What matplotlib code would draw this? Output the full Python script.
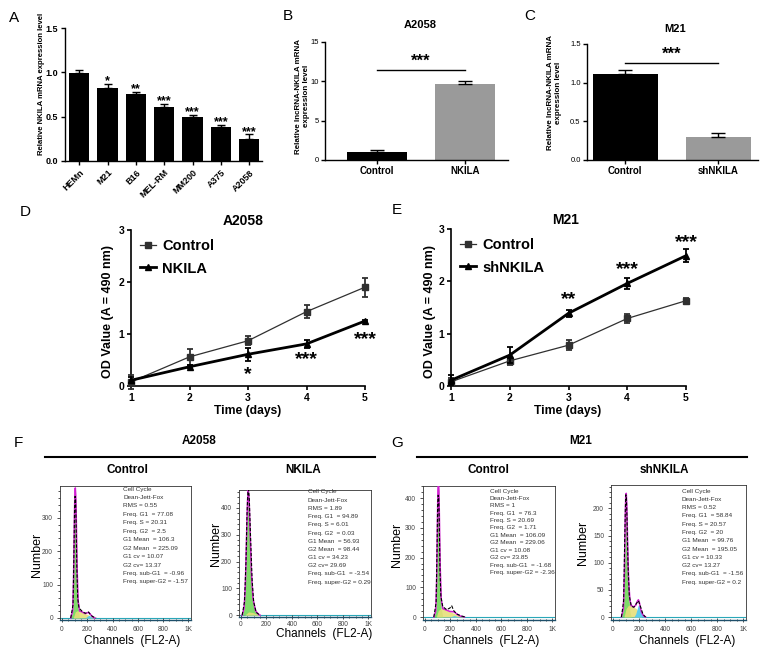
import numpy as np
import matplotlib
matplotlib.use('Agg')
import matplotlib.pyplot as plt
from matplotlib.ticker import MultipleLocator
from matplotlib.lines import Line2D

plt.rcParams['font.family'] = ['Liberation Sans', 'DejaVu Sans']

# ---------------- data ----------------
# Panel A
a_lines = ['HEMn', 'M21', 'B16', 'MEL-RM', 'MM200', 'A375', 'A2058']
a_vals = [0.99, 0.82, 0.755, 0.605, 0.50, 0.387, 0.245]
a_errs = [0.04, 0.05, 0.025, 0.035, 0.02, 0.02, 0.055]
a_sig = ['', '*', '**', '***', '***', '***', '***']

# Panel B
b_groups = ['Control', 'NKILA']
b_vals = [1.06, 9.6]
b_errs = [0.2, 0.45]

# Panel C
c_groups = ['Control', 'shNKILA']
c_vals = [1.11, 0.30]
c_errs = [0.05, 0.045]

# Panel D / E
days = [1, 2, 3, 4, 5]
d_ctrl = [0.08, 0.56, 0.87, 1.43, 1.90]
d_ctrl_err = [0.14, 0.15, 0.09, 0.12, 0.18]
d_nkila = [0.11, 0.37, 0.61, 0.81, 1.25]
d_nkila_err = [0.06, 0.03, 0.13, 0.07, 0.02]
d_sig = ['', '', '*', '***', '***']
d_sig_y = [0, 0, 0.22, 0.50, 0.90]

e_ctrl = [0.08, 0.48, 0.78, 1.29, 1.63]
e_ctrl_err = [0.07, 0.08, 0.10, 0.08, 0.06]
e_sh = [0.11, 0.59, 1.39, 1.96, 2.49]
e_sh_err = [0.10, 0.15, 0.07, 0.10, 0.12]
e_sig = ['', '', '**', '***', '***']
e_sig_y = [0, 0, 1.66, 2.22, 2.74]

# Panel F/G histograms (channel, count)
fc_g1_ch = [70, 85, 92, 98, 102, 106, 110, 114, 120, 128, 140]
fc_g1_n = [0, 20, 110, 270, 350, 372, 345, 270, 130, 30, 0]
fc_s_ch = [90, 105, 120, 150, 180, 210, 235, 260]
fc_s_n = [0, 18, 22, 20, 14, 9, 4, 0]
fc_g2_ch = [185, 200, 212, 225, 245]
fc_g2_n = [0, 5, 8, 5, 0]
fc_d_ch = [70, 88, 95, 100, 104, 108, 112, 118, 125, 135, 160, 185, 200, 210, 222, 240, 270]
fc_d_n = [0, 40, 190, 330, 365, 355, 290, 150, 60, 30, 20, 14, 17, 18, 12, 5, 0]

fn_g1_ch = [10, 25, 35, 45, 52, 58, 64, 72, 82, 95, 115, 140]
fn_g1_n = [0, 25, 110, 300, 420, 455, 420, 300, 150, 50, 10, 0]
fn_s_ch = [30, 60, 90, 120, 150]
fn_s_n = [0, 12, 10, 5, 0]
fn_g2_ch = [85, 98, 110]
fn_g2_n = [0, 1, 0]
fn_d_ch = [10, 28, 40, 48, 55, 60, 66, 75, 88, 100, 120, 150]
fn_d_n = [0, 50, 200, 380, 460, 470, 430, 300, 130, 50, 10, 0]

gc_g1_ch = [70, 85, 92, 98, 102, 106, 110, 114, 120, 128, 140]
gc_g1_n = [0, 20, 120, 300, 410, 435, 400, 300, 140, 30, 0]
gc_s_ch = [90, 105, 130, 160, 200, 240, 280, 310]
gc_s_n = [0, 22, 30, 25, 18, 10, 3, 0]
gc_g2_ch = [195, 215, 229, 245, 265]
gc_g2_n = [0, 3, 5, 3, 0]
gc_d_ch = [70, 88, 95, 100, 104, 108, 112, 118, 125, 140, 170, 195, 210, 225, 250, 290, 320]
gc_d_n = [0, 50, 230, 380, 410, 400, 330, 160, 70, 35, 25, 30, 38, 22, 10, 3, 0]

gs_g1_ch = [65, 80, 88, 94, 98, 102, 106, 112, 120, 130, 140]
gs_g1_n = [0, 15, 80, 170, 210, 212, 190, 120, 45, 10, 0]
gs_s_ch = [85, 100, 120, 150, 180, 200, 220]
gs_s_n = [0, 15, 22, 20, 15, 8, 0]
gs_g2_ch = [160, 175, 188, 195, 202, 215, 235, 250]
gs_g2_n = [0, 6, 17, 22, 20, 10, 2, 0]
gs_d_ch = [65, 82, 90, 95, 99, 103, 108, 115, 125, 140, 160, 180, 195, 210, 230, 250]
gs_d_n = [0, 30, 140, 200, 225, 220, 180, 100, 40, 20, 18, 25, 30, 20, 5, 0]

stat_names = ['RMS', 'Freq. G1 ', 'Freq. S', 'Freq. G2 ', 'G1 Mean ', 'G2 Mean ',
              'G1 cv', 'G2 cv', 'Freq. sub-G1 ', 'Freq. super-G2']
fc_stats = ['0.55', '77.08', '20.31', '2.5', '106.3', '225.09', '10.07', '13.37', '-0.96', '-1.57']
fn_stats = ['1.89', '94.89', '6.01', '0.03', '56.93', '98.44', '34.23', '29.69', '-3.54', '0.29']
gc_stats = ['1', '76.3', '20.69', '1.71', '106.09', '229.06', '10.08', '23.85', '-1.68', '-2.36']
gs_stats = ['0.52', '58.84', '20.57', '20', '99.76', '195.05', '10.33', '13.27', '-1.56', '0.2']

hist_xticks = [0, 200, 400, 600, 800, 1000]
hist_xlabels = ['0', '200', '400', '600', '800', '1K']

# ---------------- figure ----------------
W, H = 768, 652
fig = plt.figure(figsize=(W / 100, H / 100), dpi=100)


def px_axes(l, t, r, b):
    return fig.add_axes([l / W, 1 - b / H, (r - l) / W, (b - t) / H])


def ftext(x, y, s, **kw):
    return fig.text(x / W, 1 - y / H, s, **kw)


def style_prism(ax, lw=1.2, pad=2.5):
    for sp in ['top', 'right']:
        ax.spines[sp].set_visible(False)
    for sp in ['left', 'bottom']:
        ax.spines[sp].set_linewidth(lw)
    ax.tick_params(width=lw, length=3, direction='out', pad=pad)


# Panel letters
for lx, ly, lt in [(14, 18, 'A'), (288, 16, 'B'), (530, 16, 'C'), (25, 212, 'D'),
                   (397, 210, 'E'), (18, 443, 'F'), (397, 443, 'G')]:
    ftext(lx, ly, lt, fontsize=11, ha='center', va='center')

# ---- Panel A ----
axA = px_axes(65, 28, 262, 161)
xa = np.arange(len(a_lines))
axA.bar(xa, a_vals, width=0.72, color='black')
axA.errorbar(xa, a_vals, yerr=[np.zeros(len(a_vals)), a_errs], fmt='none',
             ecolor='black', elinewidth=1, capsize=3, capthick=1)
for i, s in enumerate(a_sig):
    if s:
        axA.text(i, a_vals[i] + a_errs[i] + 0.03, s, ha='center', va='center',
                 fontsize=9, fontweight='bold')
axA.set_xlim(-0.5, 6.45)
axA.set_ylim(0, 1.5)
axA.set_yticks([0, 0.5, 1.0, 1.5])
axA.set_yticklabels(['0.0', '0.5', '1.0', '1.5'], fontsize=6.5, fontweight='bold')
axA.set_xticks(xa)
axA.set_xticklabels(a_lines, rotation=45, ha='right', rotation_mode='anchor',
                    fontsize=6.5, fontweight='bold')
style_prism(axA, 1.0, pad=2)
ftext(42, 84, 'Relative NKILA mRNA expression level', rotation=90, ha='center',
      va='center', fontsize=5.6, fontweight='bold')

# ---- Panel B ----
axB = px_axes(325, 42, 508, 160)
xb = np.arange(len(b_groups))
axB.bar(xb, b_vals, width=0.68, color=['black', '#9a9a9a'])
axB.errorbar(xb, b_vals, yerr=[np.zeros(2), b_errs], fmt='none', ecolor='black',
             elinewidth=1, capsize=5, capthick=1)
axB.plot([0, 1], [11.4, 11.4], color='black', lw=1)
axB.text(0.5, 12.5, '***', ha='center', va='center', fontsize=12, fontweight='bold')
axB.set_xlim(-0.59, 1.49)
axB.set_ylim(0, 15)
axB.set_yticks([0, 5, 10, 15])
axB.set_yticklabels(['0', '5', '10', '15'], fontsize=5.5)
axB.set_xticks(xb)
axB.set_xticklabels(b_groups, fontsize=7, fontweight='bold')
style_prism(axB, 1.0, pad=1.5)
ftext(420, 25, 'A2058', ha='center', va='center', fontsize=8, fontweight='bold')
ftext(302, 96, 'Relative lncRNA-NKILA mRNA\nexpression level', rotation=90,
      ha='center', va='center', fontsize=5.8, fontweight='bold', multialignment='center')

# ---- Panel C ----
axC = px_axes(587, 44, 758, 160)
xc = np.arange(len(c_groups))
axC.bar(xc, c_vals, width=0.7, color=['black', '#9a9a9a'])
axC.errorbar(xc, c_vals, yerr=[np.zeros(2), c_errs], fmt='none', ecolor='black',
             elinewidth=1, capsize=5, capthick=1)
axC.plot([0, 1], [1.26, 1.26], color='black', lw=1)
axC.text(0.5, 1.37, '***', ha='center', va='center', fontsize=12, fontweight='bold')
axC.set_xlim(-0.41, 1.43)
axC.set_ylim(0, 1.5)
axC.set_yticks([0, 0.5, 1.0, 1.5])
axC.set_yticklabels(['0.0', '0.5', '1.0', '1.5'], fontsize=5.5)
axC.set_xticks(xc)
axC.set_xticklabels(c_groups, fontsize=7, fontweight='bold')
style_prism(axC, 1.0, pad=1.5)
ftext(675, 29, 'M21', ha='center', va='center', fontsize=8, fontweight='bold')
ftext(554, 93, 'Relative lncRNA-NKILA mRNA\nexpression level', rotation=90,
      ha='center', va='center', fontsize=5.8, fontweight='bold', multialignment='center')


# ---- Panels D / E ----
def growth(box, thin, thin_err, thick, thick_err, labels, sig, sig_y, title, title_xy,
           leg_anchor, ylab_xy, xlab_xy):
    ax = px_axes(*box)
    ax.errorbar(days, thin, yerr=thin_err, color='#303030', lw=0.9, marker='s', ms=4,
                elinewidth=1.3, capsize=2.5, capthick=1.3, clip_on=False, zorder=3)
    ax.errorbar(days, thick, yerr=thick_err, color='black', lw=2, marker='^', ms=4.5,
                elinewidth=1.3, capsize=2.5, capthick=1.3, clip_on=False, zorder=4)
    for d, s, y in zip(days, sig, sig_y):
        if s:
            ax.text(d, y, s, ha='center', va='center', fontsize=14, fontweight='bold')
    ax.set_xlim(1, 5)
    ax.set_ylim(0, 3)
    ax.set_xticks(days)
    ax.set_xticklabels([str(d) for d in days], fontsize=7.5, fontweight='bold')
    ax.set_yticks([0, 1, 2, 3])
    ax.set_yticklabels(['0', '1', '2', '3'], fontsize=7.5, fontweight='bold')
    style_prism(ax, 1.2, pad=2)
    h = [Line2D([], [], color='#303030', lw=0.9, marker='s', ms=4),
         Line2D([], [], color='black', lw=2, marker='^', ms=4.5)]
    ax.legend(h, labels, loc='upper left', bbox_to_anchor=leg_anchor, frameon=False,
              handlelength=1.1, handletextpad=0.45, labelspacing=0.6,
              borderaxespad=0.2, prop={'weight': 'bold', 'size': 10.5})
    ftext(title_xy[0], title_xy[1], title, ha='center', va='center', fontsize=10,
          fontweight='bold')
    ftext(ylab_xy[0], ylab_xy[1], 'OD Value (A = 490 nm)', rotation=90, ha='center',
          va='center', fontsize=9, fontweight='bold')
    ftext(xlab_xy[0], xlab_xy[1], 'Time (days)', ha='center', va='center', fontsize=8.7,
          fontweight='bold')
    return ax


growth((131, 230, 365, 386), d_ctrl, d_ctrl_err, d_nkila, d_nkila_err,
       ['Control', 'NKILA'], d_sig, d_sig_y, 'A2058', (243, 221),
       (0.0, 1.0), (108, 312), (248, 411))
growth((451, 229, 686, 386), e_ctrl, e_ctrl_err, e_sh, e_sh_err,
       ['Control', 'shNKILA'], e_sig, e_sig_y, 'M21', (566, 220),
       (0.0, 1.0), (430, 312), (568, 411))

# ---- Panels F / G ----
ftext(199, 441, 'A2058', ha='center', va='center', fontsize=8.5, fontweight='bold')
fig.add_artist(Line2D([45 / W, 375 / W], [1 - 457 / H, 1 - 457 / H], color='black', lw=1.5))
ftext(581, 441, 'M21', ha='center', va='center', fontsize=8.5, fontweight='bold')
fig.add_artist(Line2D([417 / W, 747 / W], [1 - 457 / H, 1 - 457 / H], color='black', lw=1.5))


def hist(box, ylim, yticks, yminor, g1, s, g2, data, stats, title, title_x,
         text_x, text_y0, text_dy, num_xy, chan_xy, xpad=3):
    ax = px_axes(*box)
    g1x, g1y = g1
    sx, sy = s
    g2x, g2y = g2
    ax.fill_between(g1x, g1y, color='#7fdc6a', lw=0, zorder=1)
    ax.fill_between(sx, sy, color='#e6df7a', lw=0, alpha=0.9, zorder=2)
    ax.fill_between(g2x, g2y, color='#5ccbee', lw=0, zorder=2)
    grid = np.unique(np.concatenate([g1x, sx, g2x]))
    total = (np.interp(grid, g1x, g1y, left=0, right=0) +
             np.interp(grid, sx, sy, left=0, right=0) +
             np.interp(grid, g2x, g2y, left=0, right=0))
    ax.plot(grid, total, color='#d21fd2', lw=1.1, zorder=3)
    ax.plot(data[0], data[1], color='black', lw=0.8, dashes=(3, 1.5), zorder=4)
    ax.plot([-20, 1030], [0, 0], color='#2aa7b8', lw=0.8, zorder=0)
    ax.set_xlim(-15, 1020)
    ax.set_ylim(*ylim)
    ax.set_xticks(hist_xticks)
    ax.set_xticklabels(hist_xlabels)
    ax.xaxis.set_minor_locator(MultipleLocator(50))
    ax.set_yticks(yticks)
    ax.yaxis.set_minor_locator(MultipleLocator(yminor))
    ax.tick_params(which='both', labelsize=4.8, labelcolor='#444444', width=0.6,
                   color='#333333')
    ax.tick_params(axis='x', which='major', length=3, direction='inout', pad=xpad)
    ax.tick_params(axis='x', which='minor', length=2, direction='inout')
    ax.tick_params(axis='y', which='major', length=2.5, direction='out', pad=2.5)
    ax.tick_params(axis='y', which='minor', length=1.5, direction='out')
    for sp in ax.spines.values():
        sp.set_linewidth(0.6)
        sp.set_color('#333333')
    ax.spines['bottom'].set_color('#1e4f6a')
    ax.spines['bottom'].set_linewidth(1.0)
    lines = ['Cell Cycle', 'Dean-Jett-Fox'] + [
        (n + ' = ' + v if n != 'G2 cv' else n + '= ' + v)
        for n, v in zip(stat_names, stats)]
    for i, ln in enumerate(lines):
        ftext(text_x, text_y0 + i * text_dy, ln, ha='left', va='center', fontsize=4.6,
              color='#333333')
    ftext(title_x, 470, title, ha='center', va='center', fontsize=8.5, fontweight='bold')
    ftext(num_xy[0], num_xy[1], 'Number', rotation=90, ha='center', va='center', fontsize=9)
    ftext(chan_xy[0], chan_xy[1], 'Channels  (FL2-A)', ha='center', va='center',
          fontsize=8.5)
    return ax


hist((60, 486, 191, 620), (-6, 396), [0, 100, 200, 300], 20,
     (fc_g1_ch, fc_g1_n), (fc_s_ch, fc_s_n), (fc_g2_ch, fc_g2_n), (fc_d_ch, fc_d_n),
     fc_stats, 'Control', 127, 123, 489, 8.45, (37, 555), (132, 641))
hist((239, 490, 371, 617), (-7, 467), [0, 100, 200, 300, 400], 20,
     (fn_g1_ch, fn_g1_n), (fn_s_ch, fn_s_n), (fn_g2_ch, fn_g2_n), (fn_d_ch, fn_d_n),
     fn_stats, 'NKILA', 303, 308, 492, 8.2, (216, 544), (324, 634), xpad=1.5)
hist((423, 486, 555, 620), (-10, 441), [0, 100, 200, 300, 400], 20,
     (gc_g1_ch, gc_g1_n), (gc_s_ch, gc_s_n), (gc_g2_ch, gc_g2_n), (gc_d_ch, gc_d_n),
     gc_stats, 'Control', 488, 490, 491, 7.4, (397, 545), (491, 641))
hist((611, 485, 746, 620), (-5.5, 243), [0, 50, 100, 150, 200], 10,
     (gs_g1_ch, gs_g1_n), (gs_s_ch, gs_s_n), (gs_g2_ch, gs_g2_n), (gs_d_ch, gs_d_n),
     gs_stats, 'shNKILA', 664, 682, 491, 8.3, (583, 543), (687, 641))

fig.savefig('out.png', dpi=100)
